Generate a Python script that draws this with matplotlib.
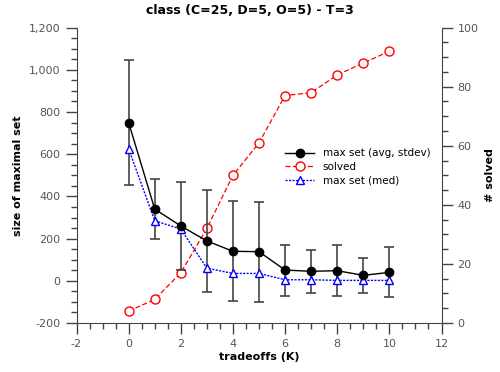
import numpy as np
import matplotlib
matplotlib.use('Agg')
import matplotlib.pyplot as plt
from matplotlib.ticker import MultipleLocator, FuncFormatter
from matplotlib.lines import Line2D

# data
tradeoffs = [0, 1, 2, 3, 4, 5, 6, 7, 8, 9, 10]
max_avg = [750, 340, 260, 189, 140, 138, 51, 45, 48, 26, 40]
max_std = [297, 144, 208, 240, 236, 237, 121, 101, 122, 82, 118]
max_med = [625, 285, 245, 60, 35, 35, 5, 5, 2, 2, 2]
solved = [4, 8, 17, 32, 50, 61, 77, 78, 84, 88, 92]

plt.rcParams['font.family'] = ['DejaVu Sans']
grey = '#444444'
lab = '#555555'

fig = plt.figure(figsize=(5, 3.72), dpi=100)
ax = fig.add_axes([0.153, 0.1317, 0.73, 0.794])
ax2 = ax.twinx()

ax.errorbar(tradeoffs, max_avg, yerr=max_std, color='black', ecolor=grey,
            elinewidth=1.2, capsize=3.5, capthick=1.2, marker='o',
            markersize=6, linewidth=1)
h3, = ax.plot(tradeoffs, max_med, color='blue', linestyle=(0, (1.5, 1)), linewidth=1,
              marker='^', markersize=6, markerfacecolor='white',
              markeredgecolor='blue', markeredgewidth=1)
h2, = ax2.plot(tradeoffs, solved, color='red', linestyle=(0, (4, 2)), linewidth=0.9,
               marker='o', markersize=6.5, markerfacecolor='white',
               markeredgecolor='red', markeredgewidth=1)
h1 = Line2D([], [], color='black', marker='o', markersize=6, linewidth=1)

ax.set_xlim(-2, 12)
ax.set_ylim(-200, 1200)
ax2.set_ylim(0, 100)
ax.xaxis.set_major_locator(MultipleLocator(2))
ax.xaxis.set_minor_locator(MultipleLocator(0.5))
ax.xaxis.set_major_formatter(FuncFormatter(lambda v, p: '{:.0f}'.format(v)))
ax.yaxis.set_major_locator(MultipleLocator(200))
ax.yaxis.set_minor_locator(MultipleLocator(50))
ax.yaxis.set_major_formatter(FuncFormatter(lambda v, p: '{:,.0f}'.format(v)))
ax2.yaxis.set_major_locator(MultipleLocator(20))
ax2.yaxis.set_minor_locator(MultipleLocator(5))

for a in (ax, ax2):
    a.spines['top'].set_visible(False)
    for s in a.spines.values():
        s.set_color(grey)
    a.tick_params(which='major', length=8, width=1, color=grey, labelcolor=lab, labelsize=8)
    a.tick_params(which='minor', length=4, width=1, color=grey)
ax.spines['right'].set_visible(False)
ax2.spines['left'].set_visible(False)
ax2.spines['bottom'].set_visible(False)

ax.set_xlabel('tradeoffs (K)', fontsize=8, fontweight='bold', labelpad=2)
ax.set_ylabel('size of maximal set', fontsize=8, fontweight='bold')
ax2.set_ylabel('# solved', fontsize=8, fontweight='bold', labelpad=5)
fig.suptitle('class (C=25, D=5, O=5) - T=3', fontsize=9, fontweight='bold', y=0.99)

ax.legend([h1, h2, h3], ['max set (avg, stdev)', 'solved', 'max set (med)'],
          loc='upper left', bbox_to_anchor=(0.56, 0.605), frameon=False,
          fontsize=7.5, handlelength=2.8, handletextpad=0.8, labelspacing=0.35,
          borderaxespad=0)
ax.set_zorder(ax2.get_zorder() + 1)
ax.patch.set_visible(False)

fig.savefig('out.png', dpi=100)
